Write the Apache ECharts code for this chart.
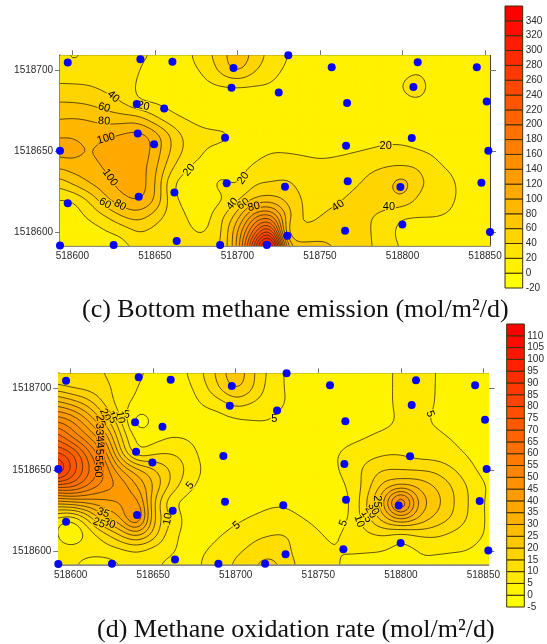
<!DOCTYPE html>
<html><head><meta charset="utf-8">
<style>html,body{margin:0;padding:0;background:#fff}#c{width:547px;height:644px}</style>
<script src="https://cdn.jsdelivr.net/npm/echarts@6/dist/echarts.min.js"></script>
</head><body><div id="c"></div>
<script>
// ---------- data ----------
const xNodes=[518590,518600,518610,518620,518630,518640,518650,518660,518670,518680,518690,518700,518710,518720,518730,518740,518750,518760,518770,518780,518790,518800,518810,518820,518830,518840,518850,518860];
const yNodes=[1518710,1518700,1518690,1518680,1518670,1518660,1518650,1518640,1518630,1518620,1518610,1518600,1518590];
const xTicks=[518600,518650,518700,518750,518800,518850];
const yTicks=[1518600,1518650,1518700];
const emission=[
[28,16,24,26,25,23,19,10,17,32,52,72,55,33,21,12,10,10,10,10,10,12,12,10,10,10,10,10],
[32,26,28,29,27,21,12,10,15,23,46,66,43,27,17,11,10,10,10,10,12,15,18,12,10,10,10,10],
[42,43,41,35,28,18,13,10,12,15,18,18.5,18,18,12,10,10,10,10,10,12,21,27,12,10,10,10,10],
[61,60,57,50,40,21,18,14,11,10,10,10,10,10,10,10,10,10,10,10,11,15,17,12,10,10,10,10],
[79,81,79,72,70,70,45,26,18,14,11,10,10,10,10,10,10,10,10,10,10,11,11,10,10,10,10,10],
[97,98,92,96,103,108,92,58,32,24,24,18,10,10,10,10,10,10,12,14,15,14,12,10,10,10,10,10],
[108,108,99,108,113,115,92,57,33,19.5,15,10,14,19.5,19,17,15,16,18.5,21,24,25,20.5,16.5,12,10,10,10],
[80,88,91,102,112,110,86,43,19,14,10,13,23,28,30,28,26,28,32,37,41,42,39,24,17,12,10,10],
[45,62,80,92,108,112,82,21,13,10,27,18,39,42,44,33,31,31,37,44,53,72,44,34,22,14,11,10],
[18,19,41,75,92,102,80,28,14,12,16,37,63,70,55,38,32,37,45,49,50,54,34,26,21.5,14,11,10],
[14,12,23,38,60,68,50,30,19.5,12,36,70,136,152,72,37,40,48,50,41,33,20.5,20.5,21,18,12,10,10],
[9,8,10,17,23,40,32,26,23,19.5,37,100,190,260,50,46,50,50,47,42,26,15,10,10,10,10,10,10],
[8,8,10,12,14,22,24,24,25,26,42,100,252,380,110,72,70,60,50,43,28,19,12,10,10,10,10,10]
];
const oxidation=[
[9,9,10,10,8,6,4,2.5,4.8,10,17,24,16,9,4.5,3,2.5,2.5,2.5,2.5,3.5,6.5,8,5.2,3,2.5,2.5,2.5],
[18,15,13.5,11.5,8,5,3,2.5,3.5,8,15,21,15.5,8,4.8,3,2.5,2.5,2.5,2.5,3.5,6.5,8,5.1,3,2.5,2.5,2.5],
[34,30,24,15,7.5,3.5,2.5,2.5,2.5,5.2,7,11,9,7,5,3,2.5,2.5,2.5,2.5,3.5,6.5,7.5,5,3,2.5,2.5,2.5],
[50,46,36,24,11,-3,1,2.5,2.5,2.5,3,4,4.8,5,3,2.5,2.5,2.5,2.5,2.8,3.5,5.8,6,4.5,3,2.5,2.5,2.5],
[65,55,46,35,16,3.5,3,4.8,4.5,3,2.5,2.5,2.5,2.5,2.5,2.5,2.5,3,3.8,5,6.5,7,7,6.3,4.9,3.5,2.5,2.5],
[76,72,58,44,22,6,9,10,8,3.5,2.5,2.5,2.5,2.5,2.5,2.5,2.5,4.6,6.5,8,9.3,9.5,8,7.5,6.5,4.6,3,2.5],
[90,75,62,50,36,27,21,15,9.5,4.5,2.5,2.5,2.5,2.5,2.5,2.5,2.5,4.5,7,12,15,15,14.5,14,11,7,3.5,2.5],
[62,63,55,48,44,35,25,14.5,7,3.5,2.5,2.5,2.5,2.5,2.5,2.5,2.5,3.5,6,13,22,25.5,24,20,15.5,10,5.5,3],
[32,34,36,38,40,43,21,6.5,3.5,2.5,2.5,2.5,3,4.2,4.3,3,2.5,2.5,5.4,16,31,56,30,23,16.5,10.5,5,2.5],
[9,5,15,29,34,49,21,10.5,3.5,2.5,2.5,3.8,5.5,6.5,6.8,5.1,3.5,2.6,5.8,14,23,31,25,19,15,10,5.2,2.5],
[7,0,6,12,20,26,18,7,3.8,2.8,4.6,7,9,10,10.3,8,5.6,4.3,7,9,10,7.5,10,11,9,7,5.1,2.5],
[7,8,8,7.5,8,10,7,6,3.5,4.6,7,9.2,11,12.5,11,8,6.5,5,5.3,5.2,4.9,3.5,4.7,5.3,5.2,5,3.5,2.5],
[7,7,0,1,5,6,6,3.5,2.5,5.5,8,11,14,19,12.5,9,7.5,5.5,3.8,3,2.5,2.5,5.5,4.2,3,2.5,2.5,2.5]
];
const stations=[[518597.2,1518704.7],[518641.2,1518706.7],[518660.6,1518705.3],[518697.6,1518701.4],[518696.4,1518689.3],[518725,1518686.3],[518730.8,1518709.2],[518639,1518679.2],[518655.6,1518676.4],[518639.6,1518661],[518649.5,1518654.4],[518692.5,1518658.5],[518592.5,1518650.5],[518693.5,1518630.4],[518661.8,1518624.8],[518640.2,1518622.2],[518597.2,1518618.1],[518592.5,1518592.2],[518625,1518592.4],[518663.2,1518594.9],[518689.5,1518592.4],[518717.8,1518592.4],[518757.1,1518701.8],[518809.2,1518704.9],[518845,1518701.8],[518806.6,1518689.7],[518766.4,1518679.8],[518851,1518680.7],[518765.8,1518653.6],[518805.6,1518658.3],[518852,1518650.5],[518766.8,1518631.6],[518728.8,1518628.3],[518798.7,1518628.1],[518847.8,1518630.8],[518799.9,1518605.1],[518765.2,1518601.2],[518730.2,1518598.2],[518853,1518600.4]];
const levelsC=[-20,0,20,40,60,80,100,120,140,160,180,200,220,240,260,280,300,320,340,360];
const levelsD=[-5,0,5,10,15,20,25,30,35,40,45,50,55,60,65,70,75,80,85,90,95,100,105,110,115];
const labelsC=[[518624.8,1518683.7,'40',-40],[518643,1518678,'20',-12],[518619.2,1518677,'60',-15],[518619.2,1518668.6,'80',-3],[518620.4,1518657.9,'100',15],[518622.8,1518633.9,'100',-55],[518619.8,1518618,'60',-30],[518628.9,1518617,'80',-30],[518670.7,1518638.6,'20',50],[518697,1518617.7,'40',50],[518703.6,1518617.7,'60',35],[518710,1518616,'80',15],[518703.6,1518633.5,'20',55],[518789.8,1518653.6,'20',0],[518761,1518616.6,'40',35],[518791.8,1518615.6,'40',0]];
const labelsD=[[518634,1518683.7,'5',-5],[518630,1518682.2,'10',-80],[518624.8,1518682.2,'15',-70],[518620.8,1518683.7,'20',-65],[518618,1518680,'25',-80],[518617.5,1518675,'30',-85],[518617.5,1518671,'35',-85],[518617.7,1518667,'40',-85],[518617.7,1518663,'45',-85],[518617.5,1518659,'50',-85],[518617,1518655,'55',-85],[518616.4,1518649,'60',-85],[518672.3,1518640.4,'5',50],[518658.8,1518619.8,'10',80],[518619.8,1518623.5,'35',-20],[518623.4,1518617,'30',-20],[518617.2,1518617.3,'25',-20],[518700.6,1518615.9,'5',40],[518723.4,1518681.2,'5',0],[518817.7,1518684.3,'5',-70],[518765.2,1518617.3,'5',70],[518774.8,1518618.4,'10',-70],[518779.3,1518621.4,'15',-60],[518781.8,1518624,'20',-60],[518783.4,1518626,'30',-60],[518785.4,1518630.6,'25',-90]];
const captionC='(c) Bottom methane emission (mol/m²/d)';
const captionD='(d) Methane oxidation rate (mol/m²/d)';

// ---------- contour machinery (surface through the value table) ----------
const UP=5,PASSES=6;
function cr(p0,p1,p2,p3,t){return 0.5*(2*p1+(p2-p0)*t+(2*p0-5*p1+4*p2-p3)*t*t+(3*p1-p0-3*p2+p3)*t*t*t);}
function refine(rows){
  const R=rows.slice().reverse(), Y=yNodes.slice().reverse(), nx=xNodes.length, ny=Y.length;
  const at=(i,j)=>R[Math.max(0,Math.min(ny-1,j))][Math.max(0,Math.min(nx-1,i))];
  const xs=[],ys=[];let v=[];
  for(let i=0;i<nx-1;i++)for(let k=0;k<UP;k++)xs.push(xNodes[i]+(xNodes[i+1]-xNodes[i])*k/UP);
  xs.push(xNodes[nx-1]);
  for(let j=0;j<ny-1;j++)for(let k=0;k<UP;k++)ys.push(Y[j]+(Y[j+1]-Y[j])*k/UP);
  ys.push(Y[ny-1]);
  for(let q=0;q<ys.length;q++){
    const j=Math.min(ny-2,Math.floor(q/UP)),ty=q/UP-j,row=[];
    for(let p=0;p<xs.length;p++){
      const i=Math.min(nx-2,Math.floor(p/UP)),tx=p/UP-i,col=[];
      for(let b=-1;b<=2;b++)col.push(cr(at(i-1,j+b),at(i,j+b),at(i+1,j+b),at(i+2,j+b),tx));
      let val=cr(col[0],col[1],col[2],col[3],ty);
      const c=[at(i,j),at(i+1,j),at(i,j+1),at(i+1,j+1)];
      val=Math.max(Math.min(...c),Math.min(Math.max(...c),val));
      row.push(val);
    }
    v.push(row);
  }
  const W=xs.length,H=ys.length;
  for(let s=0;s<PASSES;s++){
    const w=[];
    for(let q=0;q<H;q++){
      const row=[];
      for(let p=0;p<W;p++){
        const g=(a,b)=>v[Math.max(0,Math.min(H-1,a))][Math.max(0,Math.min(W-1,b))];
        row.push((4*g(q,p)+2*(g(q,p-1)+g(q,p+1)+g(q-1,p)+g(q+1,p))+g(q-1,p-1)+g(q-1,p+1)+g(q+1,p-1)+g(q+1,p+1))/16);
      }
      w.push(row);
    }
    v=w;
  }
  return {xs,ys,v};
}
function clipPoly(pts,level,keepAbove){
  const out=[],s=keepAbove?1:-1;
  for(let i=0;i<pts.length;i++){
    const a=pts[i],b=pts[(i+1)%pts.length],da=s*(a[2]-level),db=s*(b[2]-level);
    if(da>=0)out.push(a);
    if((da>=0)!==(db>=0)){const t=da/(da-db);out.push([a[0]+(b[0]-a[0])*t,a[1]+(b[1]-a[1])*t,level]);}
  }
  return out;
}
function buildBands(f,levels){
  const bands=levels.slice(0,-1).map(()=>[]);
  for(let q=0;q<f.ys.length-1;q++)for(let p=0;p<f.xs.length-1;p++){
    const quad=[[f.xs[p],f.ys[q],f.v[q][p]],[f.xs[p+1],f.ys[q],f.v[q][p+1]],[f.xs[p+1],f.ys[q+1],f.v[q+1][p+1]],[f.xs[p],f.ys[q+1],f.v[q+1][p]]];
    const lo=Math.min(quad[0][2],quad[1][2],quad[2][2],quad[3][2]),hi=Math.max(quad[0][2],quad[1][2],quad[2][2],quad[3][2]);
    for(let b=0;b<bands.length;b++){
      if(hi<levels[b]||lo>levels[b+1])continue;
      let poly=clipPoly(quad,levels[b],true);
      if(poly.length>2)poly=clipPoly(poly,levels[b+1],false);
      if(poly.length>2)bands[b].push(poly);
    }
  }
  return bands;
}
function buildLines(f,levels){
  return levels.map(L0=>{
    const L=L0+1e-5,segs=[];
    for(let q=0;q<f.ys.length-1;q++)for(let p=0;p<f.xs.length-1;p++){
      const c=[[f.xs[p],f.ys[q],f.v[q][p]],[f.xs[p+1],f.ys[q],f.v[q][p+1]],[f.xs[p+1],f.ys[q+1],f.v[q+1][p+1]],[f.xs[p],f.ys[q+1],f.v[q+1][p]]];
      const hits=[];
      for(let e=0;e<4;e++){
        const a=c[e],b=c[(e+1)%4];
        if((a[2]>=L)!==(b[2]>=L)){const t=(L-a[2])/(b[2]-a[2]);hits.push([a[0]+(b[0]-a[0])*t,a[1]+(b[1]-a[1])*t]);}
      }
      if(hits.length===2)segs.push(hits);
      else if(hits.length===4){segs.push([hits[0],hits[1]]);segs.push([hits[2],hits[3]]);}
    }
    return segs;
  });
}
function bandColor(k,n){return 'rgb(255,'+Math.round(255*(1-k/(n-1)))+',0)';}
function sampleValue(f,x,y){
  let p=0,q=0;
  while(p<f.xs.length-1&&f.xs[p+1]<x)p++;
  while(q<f.ys.length-1&&f.ys[q+1]<y)q++;
  return f.v[q][p];
}

const FONT='"Liberation Sans",Arial,sans-serif';
const X0=518592.5,X1=518853,Y0=1518592,Y1=1518709.2;

function panel(rows,levels,labels,gi,series,xAxis,yAxis){
  const f=refine(rows),bands=buildBands(f,levels),lineLv=levels.slice(1,-1),lines=buildLines(f,lineLv),n=levels.length-1;
  const fmt=v=>String(v);
  xAxis.push({gridIndex:gi,type:'value',min:X0,max:X1,position:'bottom',splitLine:{show:false},
    axisLine:{onZero:false,lineStyle:{color:'#8a8a8a',width:2}},axisTick:{show:false,customValues:xTicks},
    axisLabel:{customValues:xTicks,formatter:fmt,color:'#2a2a2a',fontFamily:FONT,fontSize:10,margin:6,hideOverlap:false,showMinLabel:true,showMaxLabel:true}});
  const xi2=xAxis.length;
  xAxis.push({gridIndex:gi,type:'value',min:X0,max:X1,position:'top',splitLine:{show:false},
    axisLine:{onZero:false,lineStyle:{color:'#444',width:1}},axisTick:{show:true,length:5,customValues:xTicks,lineStyle:{color:'#777'}},axisLabel:{show:false}});
  const xi=xi2-1;
  yAxis.push({gridIndex:gi,type:'value',min:Y0,max:Y1,position:'left',splitLine:{show:false},
    axisLine:{onZero:false,lineStyle:{color:'#8a8a8a',width:2}},axisTick:{show:true,length:5,customValues:yTicks,lineStyle:{color:'#777'}},
    axisLabel:{customValues:yTicks,formatter:fmt,color:'#2a2a2a',fontFamily:FONT,fontSize:10,margin:7}});
  const yi=yAxis.length-1;
  yAxis.push({gridIndex:gi,type:'value',min:Y0,max:Y1,position:'right',splitLine:{show:false},
    axisLine:{onZero:false,lineStyle:{color:'#444',width:1}},axisTick:{show:true,length:6,customValues:yTicks,lineStyle:{color:'#777'}},axisLabel:{show:false}});
  const base={type:'custom',coordinateSystem:'cartesian2d',xAxisIndex:xi,yAxisIndex:yi,clip:true,silent:true,animation:false};
  series.push(Object.assign({},base,{z:1,data:bands.map((_,k)=>[X0,Y0,k]),renderItem:(params,api)=>{
    const k=params.dataIndex;let d='';
    for(const poly of bands[k]){
      poly.forEach((pt,i)=>{const c=api.coord([pt[0],pt[1]]);d+=(i?'L':'M')+c[0].toFixed(2)+' '+c[1].toFixed(2);});
      d+='Z';
    }
    if(!d)return null;
    return {type:'path',shape:{pathData:d},style:{fill:bandColor(k,n),stroke:bandColor(k,n),lineWidth:0.3}};
  }}));
  series.push(Object.assign({},base,{z:2,data:lines.map((_,k)=>[X0,Y0,k]),renderItem:(params,api)=>{
    let d='';
    for(const s of lines[params.dataIndex]){
      const a=api.coord(s[0]),b=api.coord(s[1]);
      d+='M'+a[0].toFixed(2)+' '+a[1].toFixed(2)+'L'+b[0].toFixed(2)+' '+b[1].toFixed(2);
    }
    if(!d)return null;
    return {type:'path',shape:{pathData:d},style:{fill:null,stroke:'rgba(45,35,0,0.85)',lineWidth:0.9}};
  }}));
  series.push(Object.assign({},base,{z:3,clip:false,data:labels.map(l=>[l[0],l[1]]),renderItem:(params,api)=>{
    const l=labels[params.dataIndex],c=api.coord([l[0],l[1]]);
    let k=0;const v=sampleValue(f,l[0],l[1]);
    while(k<n-1&&levels[k+1]<v)k++;
    return {type:'text',x:c[0],y:c[1],rotation:l[3]*Math.PI/180,style:{text:l[2],font:'11px '+FONT,fill:'#000',stroke:bandColor(k,n),lineWidth:2.5,align:'center',verticalAlign:'middle'}};
  }}));
  series.push({type:'scatter',xAxisIndex:xi,yAxisIndex:yi,data:stations,symbol:'circle',symbolSize:8,clip:false,z:4,silent:true,animation:false,itemStyle:{color:'#0606f5',opacity:1}});
}
function colorbar(levels,gi,series,xAxis,yAxis){
  const n=levels.length-1,ticks=levels.slice(0,-1);
  const xi=xAxis.length,yi=yAxis.length;
  xAxis.push({gridIndex:gi,type:'value',min:0,max:1,show:false});
  yAxis.push({gridIndex:gi,type:'value',min:levels[0],max:levels[n],position:'right',splitLine:{show:false},
    axisLine:{show:false,onZero:false},axisTick:{show:false,customValues:ticks},
    axisLabel:{customValues:ticks,formatter:v=>String(v),color:'#2a2a2a',fontFamily:FONT,fontSize:10,margin:3}});
  series.push({type:'custom',coordinateSystem:'cartesian2d',xAxisIndex:xi,yAxisIndex:yi,silent:true,animation:false,clip:false,
    data:ticks.map((t,k)=>[0,t,levels[k+1]]),renderItem:(params,api)=>{
      const a=api.coord([0,api.value(2)]),b=api.coord([1,api.value(1)]);
      return {type:'rect',shape:{x:a[0],y:a[1],width:b[0]-a[0],height:b[1]-a[1]},style:{fill:bandColor(params.dataIndex,n),stroke:'#3a3000',lineWidth:1}};
    }});
}
const series=[],xAxis=[],yAxis=[];
panel(emission,levelsC,labelsC,0,series,xAxis,yAxis);
colorbar(levelsC,1,series,xAxis,yAxis);
panel(oxidation,levelsD,labelsD,2,series,xAxis,yAxis);
colorbar(levelsD,3,series,xAxis,yAxis);
const chart=echarts.init(document.getElementById('c'),null,{renderer:'canvas'});
chart.setOption({animation:false,backgroundColor:'#fff',
  title:[
   {text:captionC,left:77,top:292,textStyle:{fontFamily:'"Liberation Serif","Times New Roman",serif',fontSize:26,fontWeight:'normal',color:'#111'}},
   {text:captionD,left:92,top:612,textStyle:{fontFamily:'"Liberation Serif","Times New Roman",serif',fontSize:26,fontWeight:'normal',color:'#111'}}
  ],
  grid:[
   {left:60,top:55.3,width:430,height:190.4},
   {left:505,top:6,width:17.7,height:282},
   {left:58.3,top:373.3,width:430,height:191},
   {left:506.7,top:324,width:17.6,height:283}
  ],
  xAxis,yAxis,series});
</script></body></html>
